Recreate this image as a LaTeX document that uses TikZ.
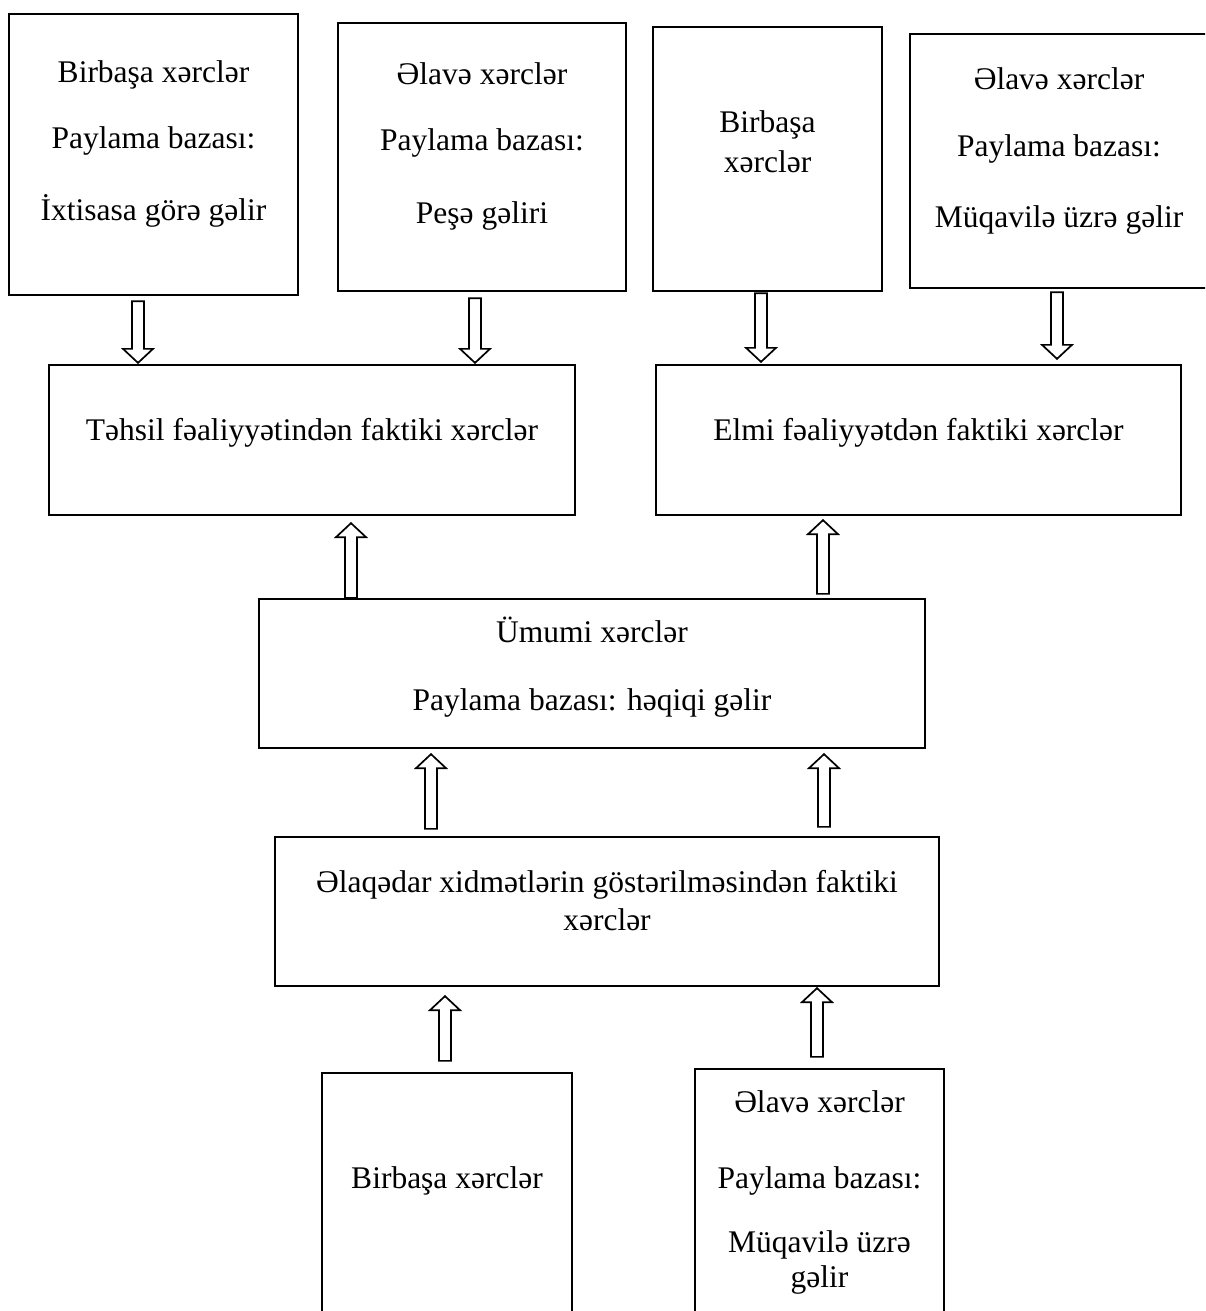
\documentclass[tikz,border=0pt]{standalone}
\usepackage{fontspec}
\setmainfont{Liberation Serif}
\usetikzlibrary{calc,fit}
\tikzset{
  box/.style={draw, line width=2.3pt, inner sep=0pt, rectangle},
  txt/.style={font=\fontsize{31.5}{38}\selectfont, anchor=base, inner sep=0pt},
  barrowline/.style={draw, line width=1.7pt, line join=miter}
}
\newcommand\barr[2]{%
  \draw[barrowline] let \p1=(#1), \p2=(#2), \n1={(\y2-\y1)/abs(\y2-\y1)} in
  (\x1-6pt,\y1) -- (\x1-6pt,\y2-\n1*14pt) -- (\x1-15pt,\y2-\n1*14pt) -- (\x1,\y2)
  -- (\x1+15pt,\y2-\n1*14pt) -- (\x1+6pt,\y2-\n1*14pt) -- (\x1+6pt,\y1) -- cycle;}
\begin{document}
\begin{tikzpicture}[x=1pt,y=-1pt]
\useasboundingbox (0,0) rectangle (1205,1311);
\clip (0,0) rectangle (1205,1311);
\fill[white] (0,0) rectangle (1205,1311);
% boxes
\node[box, fit={(9,14) (298,295)}] (A) {};
\node[box, fit={(338,23) (626,291)}] (B) {};
\node[box, fit={(653,27) (882,291)}] (C) {};
\node[box, fit={(910,34) (1210,288)}] (D) {};
\node[box, fit={(49,365) (575,515)}] (E) {};
\node[box, fit={(656,365) (1181,515)}] (F) {};
\node[box, fit={(259,599) (925,748)}] (G) {};
\node[box, fit={(275,837) (939,986)}] (H) {};
\node[box, fit={(322,1073) (572,1325)}] (I) {};
\node[box, fit={(695,1069) (944,1325)}] (J) {};
% texts
\node[txt] (A1) at (153.5,83) {Birbaşa xərclər};
\node[txt] (A2) at (153.5,148) {Paylama bazası:};
\node[txt] (A3) at (153.5,220) {İxtisasa görə gəlir};
\node[txt] (B1) at (482,85) {Əlavə xərclər};
\node[txt] (B2) at (482,150) {Paylama bazası:};
\node[txt] (B3) at (482,223) {Peşə gəliri};
\node[txt] (C1) at (767.5,132) {Birbaşa};
\node[txt] (C2) at (767.5,172) {xərclər};
\node[txt] (D1) at (1059,90) {Əlavə xərclər};
\node[txt] (D2) at (1059,157) {Paylama bazası:};
\node[txt] (D3) at (1059,227) {Müqavilə üzrə gəlir};
\node[txt] (E1) at (312,440) {Təhsil fəaliyyətindən faktiki xərclər};
\node[txt] (F1) at (918.5,440) {Elmi fəaliyyətdən faktiki xərclər};
\node[txt] (G1) at (592,642) {Ümumi xərclər};
\node[txt] (G2) at (592,710) {Paylama bazası: həqiqi gəlir};
\node[txt] (H1) at (607,892) {Əlaqədar xidmətlərin göstərilməsindən faktiki};
\node[txt] (H2) at (607,930) {xərclər};
\node[txt] (I1) at (447,1188) {Birbaşa xərclər};
\node[txt] (J1) at (819.5,1112) {Əlavə xərclər};
\node[txt] (J2) at (819.5,1188) {Paylama bazası:};
\node[txt] (J3) at (819.5,1252) {Müqavilə üzrə};
\node[txt] (J4) at (819.5,1287) {gəlir};
% block arrows
\barr{[xshift=-15.5pt,yshift=-5pt]A.south}{[yshift=1pt]E.north}
\barr{[xshift=-7pt,yshift=-6pt]B.south}{[yshift=1pt]E.north}
\barr{[xshift=-6.5pt,yshift=-1pt]C.south}{[yshift=2pt]F.north}
\barr{[xshift=-3pt,yshift=-3pt]D.south}{[yshift=5pt]F.north}
\barr{[xshift=-241pt]G.north}{[yshift=-7pt]E.south}
\barr{[xshift=231pt,yshift=4pt]G.north}{[yshift=-4pt]F.south}
\barr{[xshift=-176pt,yshift=7pt]H.north}{[yshift=-5pt]G.south}
\barr{[xshift=217pt,yshift=9pt]H.north}{[yshift=-5pt]G.south}
\barr{[xshift=-2pt,yshift=11pt]I.north}{[yshift=-9pt]H.south}
\barr{[xshift=-2.5pt,yshift=11pt]J.north}{[yshift=-1pt]H.south}
\end{tikzpicture}
\end{document}
